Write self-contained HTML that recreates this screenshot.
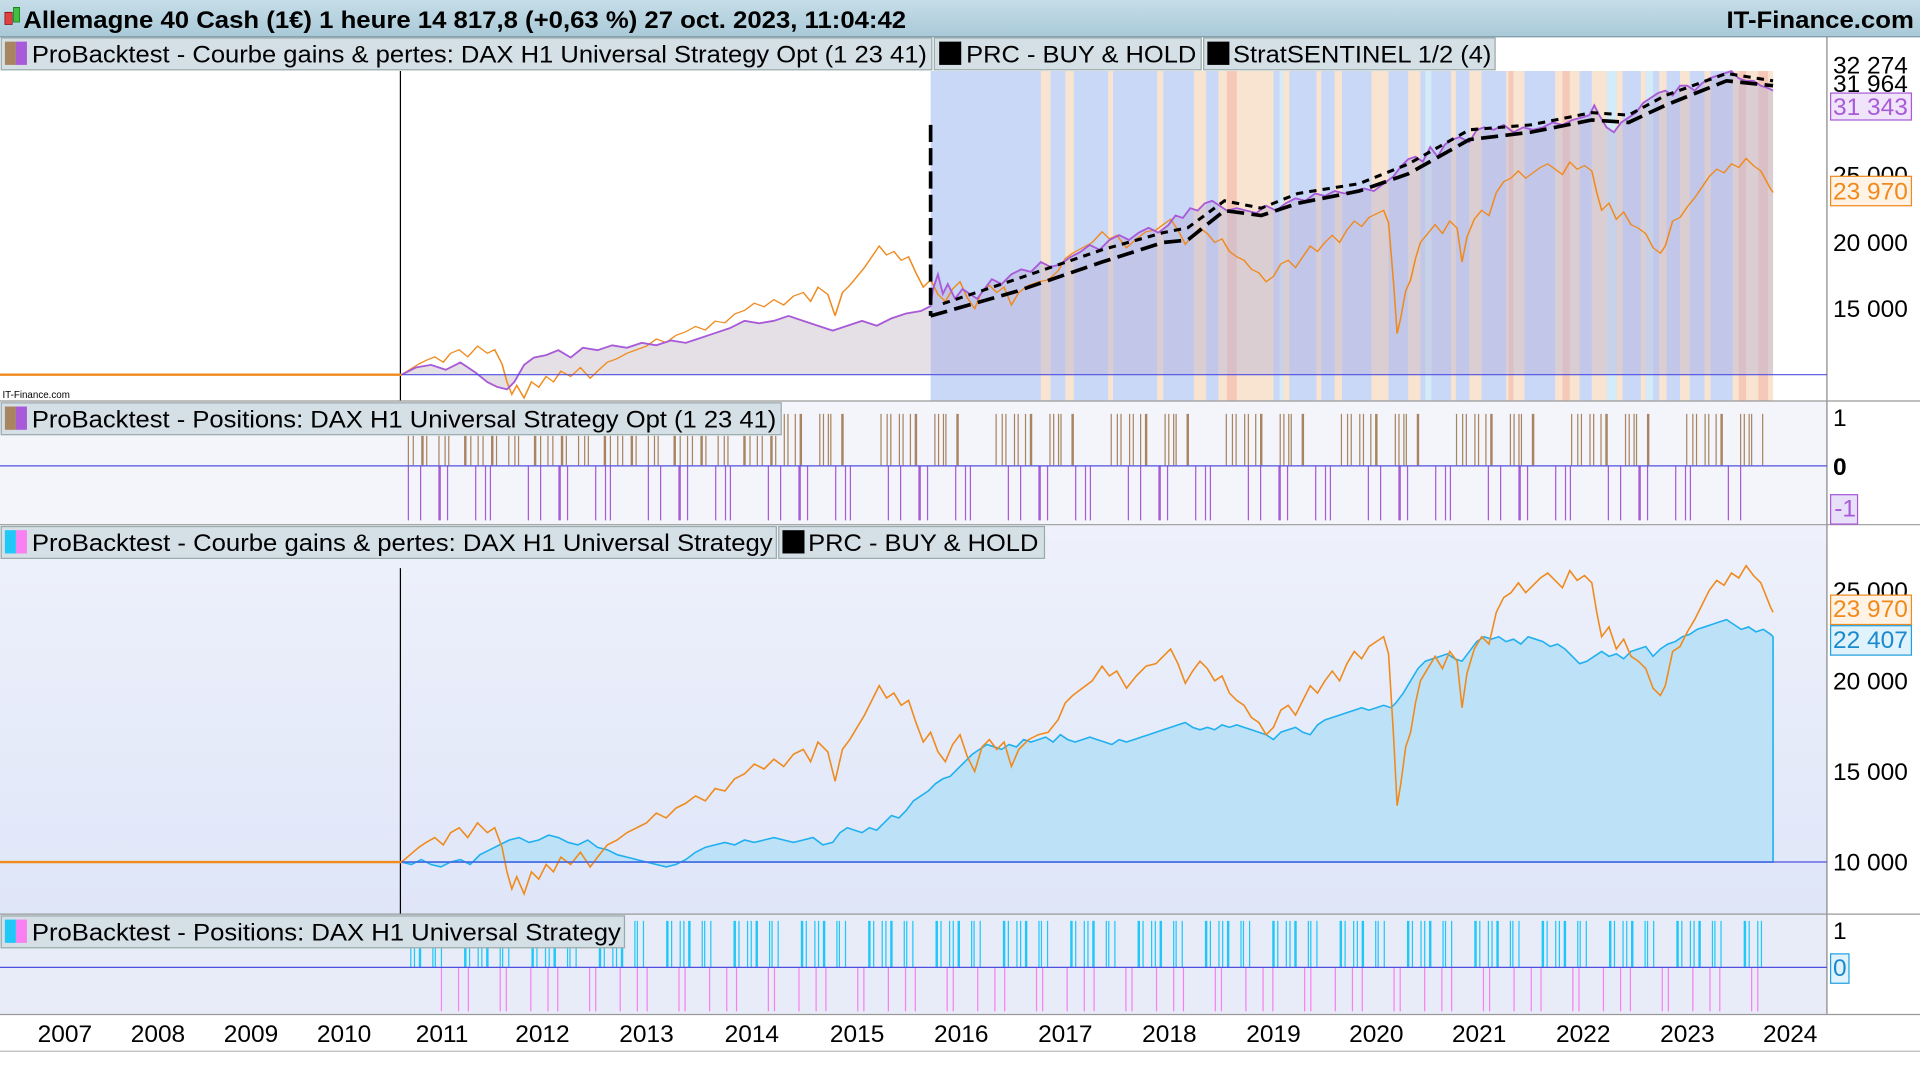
<!DOCTYPE html>
<html><head><meta charset="utf-8"><style>
html,body{margin:0;padding:0;background:#fff;overflow:hidden}
svg{display:block}
text{font-family:"Liberation Sans",sans-serif}
</style></head><body>
<svg width="1920" height="1080" viewBox="0 0 1568 882" preserveAspectRatio="none" xmlns="http://www.w3.org/2000/svg">
<defs>
<linearGradient id="tb" x1="0" y1="0" x2="0" y2="1"><stop offset="0" stop-color="#c6dde8"/><stop offset="1" stop-color="#a9c9d8"/></linearGradient>
<linearGradient id="p3" x1="0" y1="0" x2="0" y2="1"><stop offset="0" stop-color="#eef1fb"/><stop offset="1" stop-color="#dfe6f8"/></linearGradient>
<path id="dax" d="M328,704 335,698 342,692 348,688 355,684 362,690 368,680 375,676 382,684 390,672 398,680 404,676 410,692 414,712 418,726 422,716 428,730 434,712 440,718 446,706 452,712 458,700 466,706 474,696 482,708 488,700 496,690 504,686 512,680 520,676 528,672 536,664 544,668 552,660 560,656 568,650 576,654 584,644 592,646 600,636 608,632 616,624 624,628 632,620 640,626 648,616 656,612 662,622 668,606 676,614 682,638 688,612 694,604 700,594 706,584 712,572 718,560 724,570 730,566 736,576 742,572 748,590 754,606 760,598 766,614 772,622 778,608 784,600 790,618 796,630 802,610 808,604 814,612 820,606 826,626 832,612 840,604 848,600 856,598 864,588 870,574 876,568 884,562 892,556 900,544 906,552 912,548 920,562 928,552 936,544 944,542 950,536 956,530 962,542 968,558 974,548 980,540 986,546 992,556 998,552 1004,566 1010,572 1016,576 1022,586 1028,590 1034,600 1040,594 1046,580 1052,576 1058,584 1064,572 1070,560 1076,566 1082,556 1088,548 1094,556 1100,542 1106,532 1112,538 1118,528 1124,524 1130,520 1134,534 1138,600 1141,658 1144,640 1148,610 1152,598 1156,574 1160,556 1166,546 1172,536 1178,546 1184,532 1190,540 1194,578 1198,550 1204,530 1210,520 1216,526 1222,500 1228,488 1234,484 1240,476 1246,484 1252,478 1258,472 1264,468 1270,474 1276,480 1282,466 1288,474 1294,470 1300,476 1304,500 1308,520 1314,512 1320,530 1326,522 1332,536 1338,540 1344,546 1350,562 1356,568 1360,560 1366,532 1372,528 1378,516 1384,506 1390,494 1396,482 1402,474 1408,478 1414,468 1420,472 1426,462 1432,470 1438,476 1442,486 1446,496 1448,500"/>
</defs>
<rect width="1568" height="882" fill="#fff"/>
<rect x="0" y="0" width="1568" height="30" fill="url(#tb)"/>
<line x1="0" y1="30" x2="1568" y2="30" stroke="#7f9aa8"/>
<!-- panel1 bands -->
<rect x="760" y="58" width="688" height="269" fill="#cad8f8"/>
<g fill="#f8e4d0">
<rect x="850" y="58" width="8" height="269"/><rect x="870" y="58" width="7" height="269"/><rect x="905" y="58" width="4" height="269"/>
<rect x="945" y="58" width="5" height="269"/><rect x="975" y="58" width="10" height="269"/><rect x="995" y="58" width="45" height="269"/>
<rect x="1048" y="58" width="5" height="269"/><rect x="1075" y="58" width="4" height="269"/><rect x="1090" y="58" width="6" height="269"/>
<rect x="1120" y="58" width="14" height="269"/><rect x="1150" y="58" width="10" height="269"/><rect x="1185" y="58" width="4" height="269"/>
<rect x="1200" y="58" width="10" height="269"/><rect x="1230" y="58" width="15" height="269"/><rect x="1270" y="58" width="20" height="269"/>
<rect x="1300" y="58" width="12" height="269"/><rect x="1320" y="58" width="5" height="269"/><rect x="1340" y="58" width="4" height="269"/>
<rect x="1355" y="58" width="6" height="269"/><rect x="1372" y="58" width="8" height="269"/><rect x="1392" y="58" width="5" height="269"/>
<rect x="1415" y="58" width="33" height="269"/>
</g>
<g fill="#f6c8b8">
<rect x="1002" y="58" width="8" height="269"/><rect x="1232" y="58" width="4" height="269"/><rect x="1276" y="58" width="6" height="269"/><rect x="1420" y="58" width="6" height="269"/><rect x="1436" y="58" width="8" height="269"/>
</g>
<g fill="#d4ecf8"><rect x="1045" y="58" width="3" height="269"/><rect x="1164" y="58" width="5" height="269"/><rect x="1312" y="58" width="8" height="269"/><rect x="1344" y="58" width="6" height="269"/></g>
<rect x="0" y="429" width="1492" height="318" fill="url(#p3)"/>
<rect x="0" y="747" width="1492" height="81" fill="#e8ecf8"/>
<rect x="0" y="328" width="1492" height="100" fill="#f4f5fb"/>
<!-- panel1 series -->
<path d="M328,306 340,300 352,298 364,302 376,296 388,304 398,312 406,316 414,318 420,312 428,298 436,292 446,290 456,286 466,292 476,284 488,286 500,282 512,284 524,280 536,282 548,278 560,280 572,276 584,272 596,268 608,262 620,264 632,262 644,258 656,262 668,266 680,270 692,266 704,262 716,266 728,260 740,256 752,254 760,250 760,306Z" fill="#e4e0e6"/>
<g id="pu">
<path d="M760,250 762,236 766,224 770,240 774,232 780,244 786,236 792,240 798,244 804,236 810,228 818,232 826,224 834,220 842,222 850,214 858,218 866,216 874,210 882,206 890,200 898,204 906,196 914,192 922,196 930,190 938,186 946,190 954,184 960,176 966,178 972,170 978,172 984,166 990,164 996,168 1002,172 1010,170 1018,172 1026,174 1034,168 1042,172 1050,166 1058,162 1066,164 1074,158 1082,160 1090,156 1098,158 1106,156 1114,154 1122,156 1130,150 1138,144 1144,136 1150,130 1156,128 1162,132 1168,120 1174,128 1180,118 1186,114 1192,112 1200,116 1206,106 1212,104 1220,106 1228,102 1236,108 1244,104 1252,106 1260,104 1268,100 1276,102 1284,98 1292,96 1298,94 1302,86 1306,94 1312,104 1318,108 1324,100 1330,96 1336,92 1342,84 1348,80 1354,76 1360,74 1366,78 1372,70 1378,70 1384,74 1390,68 1396,64 1402,62 1408,60 1414,58 1420,64 1426,66 1432,66 1438,70 1444,72 1448,74 1448,306 760,306Z" fill="#b8b4d8" opacity=".45"/>
</g>
<use href="#dax" transform="translate(0,-207.7) scale(1,0.7297)" fill="none" stroke="#f08a1c" stroke-width="1.3" vector-effect="non-scaling-stroke"/>
<path d="M328,306 340,300 352,298 364,302 376,296 388,304 398,312 406,316 414,318 420,312 428,298 436,292 446,290 456,286 466,292 476,284 488,286 500,282 512,284 524,280 536,282 548,278 560,280 572,276 584,272 596,268 608,262 620,264 632,262 644,258 656,262 668,266 680,270 692,266 704,262 716,266 728,260 740,256 752,254 760,250 762,236 766,224 770,240 774,232 780,244 786,236 792,240 798,244 804,236 810,228 818,232 826,224 834,220 842,222 850,214 858,218 866,216 874,210 882,206 890,200 898,204 906,196 914,192 922,196 930,190 938,186 946,190 954,184 960,176 966,178 972,170 978,172 984,166 990,164 996,168 1002,172 1010,170 1018,172 1026,174 1034,168 1042,172 1050,166 1058,162 1066,164 1074,158 1082,160 1090,156 1098,158 1106,156 1114,154 1122,156 1130,150 1138,144 1144,136 1150,130 1156,128 1162,132 1168,120 1174,128 1180,118 1186,114 1192,112 1200,116 1206,106 1212,104 1220,106 1228,102 1236,108 1244,104 1252,106 1260,104 1268,100 1276,102 1284,98 1292,96 1298,94 1302,86 1306,94 1312,104 1318,108 1324,100 1330,96 1336,92 1342,84 1348,80 1354,76 1360,74 1366,78 1372,70 1378,70 1384,74 1390,68 1396,64 1402,62 1408,60 1414,58 1420,64 1426,66 1432,66 1438,70 1444,72 1448,74" fill="none" stroke="#a85ad8" stroke-width="1.5"/>
<path d="M760,102 760,258" stroke="#000" stroke-width="3" stroke-dasharray="14,5" fill="none"/>
<path d="M760,258 830,238 900,214 950,198 970,196 1000,172 1030,176 1060,166 1110,156 1150,142 1200,114 1250,108 1300,98 1330,100 1360,86 1410,66 1448,70" fill="none" stroke="#000" stroke-width="3" stroke-dasharray="14,6"/>
<path d="M770,248 830,228 900,204 950,190 970,186 1000,164 1030,170 1060,158 1110,150 1150,134 1200,106 1250,102 1300,92 1330,94 1360,78 1410,60 1448,66" fill="none" stroke="#000" stroke-width="2.5" stroke-dasharray="6,5"/>
<!-- panel3 -->
<path d="M328,704 336,706 344,702 352,706 360,708 368,704 376,702 384,706 392,698 400,694 408,690 416,686 424,684 432,688 440,686 448,682 456,684 464,688 472,690 480,686 488,692 496,694 504,698 512,700 520,702 528,704 536,706 544,708 552,706 560,702 568,696 576,692 584,690 592,688 600,690 608,686 616,688 624,686 632,684 640,686 648,688 656,686 664,684 672,690 680,688 686,680 692,676 698,678 704,680 710,676 716,678 722,672 728,666 734,668 740,662 746,654 752,650 758,646 764,640 770,636 776,634 782,628 788,622 794,616 800,612 806,608 812,610 818,612 824,608 830,610 836,604 842,606 848,604 854,602 860,606 866,600 872,604 878,606 884,604 890,602 896,604 902,606 908,608 914,604 920,606 926,604 932,602 938,600 944,598 950,596 956,594 962,592 968,590 974,594 980,596 986,594 992,596 998,592 1004,594 1010,592 1016,594 1022,596 1028,598 1034,600 1040,604 1046,598 1052,596 1058,594 1064,598 1070,600 1076,592 1082,588 1088,586 1094,584 1100,582 1106,580 1112,578 1118,580 1124,578 1130,576 1136,578 1140,574 1146,566 1152,556 1158,546 1164,540 1170,538 1176,536 1182,534 1188,538 1194,540 1200,532 1206,524 1212,520 1218,522 1224,520 1230,524 1236,522 1242,526 1248,520 1254,522 1260,524 1266,528 1272,526 1278,530 1284,536 1290,542 1296,540 1302,536 1308,532 1314,536 1320,534 1326,538 1332,532 1338,530 1344,528 1350,536 1356,530 1362,526 1368,524 1374,520 1380,518 1386,514 1392,512 1398,510 1404,508 1410,506 1416,510 1422,514 1428,512 1434,516 1440,514 1446,518 1448,520 1448,704Z" fill="#bde2f8" stroke="#20b0f0" stroke-width="1.3"/>
<use href="#dax" fill="none" stroke="#f08a1c" stroke-width="1.3"/>
<!-- positions -->
<line x1="333" y1="368" x2="640" y2="368" stroke="#a88460" stroke-width="24" stroke-dasharray="1 3 1 6 2 2 1 9 1 4 1 2 1 12 2 3 1 5"/>
<line x1="640" y1="359" x2="1440" y2="359" stroke="#a88460" stroke-width="42" stroke-dasharray="1 2 1 5 1 3 2 14 1 2 1 3 1 1 1 8 2 30 1 4 1 2 1 6"/>
<line x1="333" y1="403" x2="1430" y2="403" stroke="#a85ad8" stroke-width="44" stroke-dasharray="1 9 1 14 2 5 1 22 1 7 1 3 1 30"/>
<line x1="335" y1="771" x2="1440" y2="771" stroke="#20c8f8" stroke-width="38" stroke-dasharray="1 2 1 3 2 9 1 1 1 4 1 18 2 2 1 6"/>
<line x1="360" y1="808" x2="1440" y2="808" stroke="#f880f0" stroke-width="36" stroke-dasharray="1 13 1 7 1 25 1 4 1 19"/>
<line x1="1492" y1="30" x2="1492" y2="828" stroke="#888"/>
<line x1="0" y1="327.5" x2="1568" y2="327.5" stroke="#999"/>
<line x1="0" y1="428.5" x2="1568" y2="428.5" stroke="#999"/>
<line x1="0" y1="746.5" x2="1568" y2="746.5" stroke="#999"/>
<line x1="0" y1="828.5" x2="1568" y2="828.5" stroke="#999"/>
<line x1="0" y1="858.5" x2="1568" y2="858.5" stroke="#bbb"/>
<line x1="0" y1="306" x2="1492" y2="306" stroke="#5050e0"/>
<line x1="0" y1="380.5" x2="1492" y2="380.5" stroke="#5050e0"/>
<line x1="0" y1="704" x2="1492" y2="704" stroke="#5050e0"/>
<line x1="0" y1="790" x2="1492" y2="790" stroke="#5050e0"/>
<line x1="327" y1="58" x2="327" y2="327" stroke="#000"/>
<line x1="327" y1="464" x2="327" y2="746" stroke="#000"/>
<line x1="0" y1="306" x2="328" y2="306" stroke="#f08a1c" stroke-width="2"/>
<line x1="0" y1="704" x2="328" y2="704" stroke="#f08a1c" stroke-width="2"/>
<!-- title -->
<rect x="4" y="10" width="6" height="10" fill="#e04040" stroke="#600" stroke-width=".5"/>
<rect x="11" y="6" width="5" height="12" fill="#40c040" stroke="#060" stroke-width=".5"/>
<text x="19" y="23" font-size="20" font-weight="bold" textLength="721" lengthAdjust="spacingAndGlyphs">Allemagne 40 Cash (1€) 1 heure 14 817,8 (+0,63 %) 27 oct. 2023, 11:04:42</text>
<text x="1410" y="23" font-size="20" font-weight="bold" textLength="153" lengthAdjust="spacingAndGlyphs">IT-Finance.com</text>
<g font-size="20">
<rect x="1" y="31" width="760" height="26" fill="#d4dfe6" stroke="#9aa"/>
<rect x="4" y="34" width="9" height="19" fill="#a88460"/><rect x="13" y="34" width="9" height="19" fill="#a85ad8"/>
<text x="26" y="51" textLength="731" lengthAdjust="spacingAndGlyphs">ProBacktest - Courbe gains &amp; pertes: DAX H1 Universal Strategy Opt (1 23 41)</text>
<rect x="763" y="31" width="218" height="26" fill="#d4dfe6" stroke="#9aa"/>
<rect x="767" y="34" width="18" height="19" fill="#000"/><text x="789" y="51" textLength="188" lengthAdjust="spacingAndGlyphs">PRC - BUY &amp; HOLD</text>
<rect x="983" y="31" width="238" height="26" fill="#d4dfe6" stroke="#9aa"/>
<rect x="986" y="34" width="18" height="19" fill="#000"/><text x="1007" y="51" textLength="211" lengthAdjust="spacingAndGlyphs">StratSENTINEL 1/2 (4)</text>
<rect x="1" y="329" width="637" height="26" fill="#d4dfe6" stroke="#9aa"/>
<rect x="4" y="332" width="9" height="19" fill="#a88460"/><rect x="13" y="332" width="9" height="19" fill="#a85ad8"/>
<text x="26" y="349" textLength="608" lengthAdjust="spacingAndGlyphs">ProBacktest - Positions: DAX H1 Universal Strategy Opt (1 23 41)</text>
<rect x="1" y="430" width="633" height="26" fill="#d4dfe6" stroke="#9aa"/>
<rect x="4" y="433" width="9" height="19" fill="#20c8f8"/><rect x="13" y="433" width="9" height="19" fill="#f880f0"/>
<text x="26" y="450" textLength="605" lengthAdjust="spacingAndGlyphs">ProBacktest - Courbe gains &amp; pertes: DAX H1 Universal Strategy</text>
<rect x="636" y="430" width="217" height="26" fill="#d4dfe6" stroke="#9aa"/>
<rect x="639" y="433" width="18" height="19" fill="#000"/><text x="660" y="450" textLength="188" lengthAdjust="spacingAndGlyphs">PRC - BUY &amp; HOLD</text>
<rect x="1" y="748" width="509" height="26" fill="#d4dfe6" stroke="#9aa"/>
<rect x="4" y="751" width="9" height="19" fill="#20c8f8"/><rect x="13" y="751" width="9" height="19" fill="#f880f0"/>
<text x="26" y="768" textLength="481" lengthAdjust="spacingAndGlyphs">ProBacktest - Positions: DAX H1 Universal Strategy</text>
</g>
<text x="2" y="325" font-size="8">IT-Finance.com</text>
<g font-size="20" fill="#000">
<text x="1497" y="60">32 274</text><text x="1497" y="75">31 964</text>
<rect x="1495" y="76" width="66" height="22" fill="#f0e4fa" stroke="#a85ad8"/><text x="1497" y="94" fill="#a85ad8">31 343</text>
<text x="1497" y="150">25 000</text>
<rect x="1495" y="144" width="66" height="24" fill="#fff3e6" stroke="#f08a1c"/><text x="1497" y="163" fill="#f08a1c">23 970</text>
<text x="1497" y="205">20 000</text><text x="1497" y="259">15 000</text>
<text x="1497" y="348">1</text><text x="1497" y="388" font-weight="bold">0</text>
<rect x="1495" y="404" width="22" height="24" fill="#e8e0f8" stroke="#a85ad8"/><text x="1498" y="422" fill="#a85ad8">-1</text>
<text x="1497" y="489">25 000</text>
<rect x="1495" y="486" width="66" height="24" fill="#fff3e6" stroke="#f08a1c"/><text x="1497" y="504" fill="#f08a1c">23 970</text>
<rect x="1495" y="511" width="66" height="24" fill="#e0f2fc" stroke="#20a0e0"/><text x="1497" y="529" fill="#1a8ad0">22 407</text>
<text x="1497" y="563">20 000</text><text x="1497" y="637">15 000</text><text x="1497" y="711">10 000</text>
<text x="1497" y="767">1</text>
<rect x="1495" y="779" width="15" height="24" fill="#e0f2fc" stroke="#20a0e0"/><text x="1497" y="797" fill="#1a8ad0">0</text>
</g>
<g font-size="20" text-anchor="middle">
<text x="53" y="851">2007</text><text x="129" y="851">2008</text><text x="205" y="851">2009</text><text x="281" y="851">2010</text>
<text x="361" y="851">2011</text><text x="443" y="851">2012</text><text x="528" y="851">2013</text><text x="614" y="851">2014</text>
<text x="700" y="851">2015</text><text x="785" y="851">2016</text><text x="870" y="851">2017</text><text x="955" y="851">2018</text>
<text x="1040" y="851">2019</text><text x="1124" y="851">2020</text><text x="1208" y="851">2021</text><text x="1293" y="851">2022</text>
<text x="1378" y="851">2023</text><text x="1462" y="851">2024</text>
</g>
</svg>
</body></html>
